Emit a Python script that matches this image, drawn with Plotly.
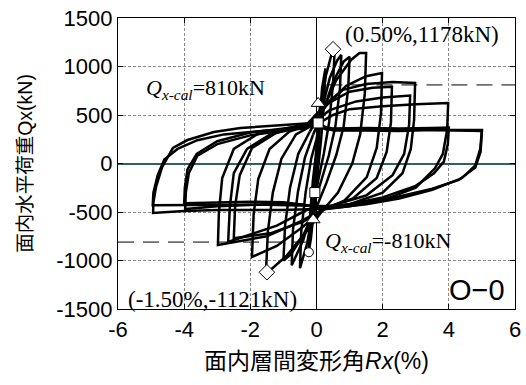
import plotly.graph_objects as go

# ---- hysteresis cycles: drift angle R (%) and in-plane load Q (kN) ----
R_c1 = [0, 0.03, 0.08, 0.12, 0.10, 0.05, 0.0, -0.05, -0.10, -0.12, -0.09, -0.04, 0.0]
Q_c1 = [0, 300, 520, 620, 380, 100, -150, -400, -560, -600, -350, -80, 80]

R_c2 = [0.0, 0.08, 0.17, 0.27, 0.23, 0.14, 0.04, -0.07, -0.17, -0.24, -0.20, -0.11, 0.0]
Q_c2 = [80, 450, 780, 980, 650, 250, -100, -480, -780, -915, -560, -180, 150]

R_c3 = [0.0, 0.10, 0.28, 0.45, 0.55, 0.50, 0.38, 0.22, 0.06, -0.10, -0.28, -0.50, -0.46, -0.33, -0.16, 0.0]
Q_c3 = [150, 480, 900, 1120, 1178, 820, 420, 100, -160, -460, -820, -1080, -700, -300, 50, 250]

R_c4 = [0.0, 0.15, 0.40, 0.62, 0.75, 0.71, 0.57, 0.37, 0.15, -0.10, -0.40, -0.75, -0.71, -0.56, -0.35, -0.10]
Q_c4 = [250, 540, 880, 1060, 1120, 780, 380, 80, -170, -460, -790, -1050, -680, -290, 60, 300]

R_c5 = [-0.10, 0.20, 0.50, 0.82, 1.0, 0.96, 0.82, 0.60, 0.30, 0.0, -0.40, -0.78, -1.0, -0.95, -0.80, -0.55, -0.20]
Q_c5 = [300, 540, 840, 1050, 1100, 780, 380, 90, -200, -450, -740, -940, -1000, -640, -250, 100, 330]

R_c6 = [-0.20, 0.20, 0.60, 1.05, 1.30, 1.50, 1.46, 1.32, 1.08, 0.65, 0.15, -0.30, -0.90, -1.53, -1.47, -1.32, -1.06, -0.62, -0.20]
Q_c6 = [330, 560, 860, 1070, 1140, 1140, 720, 300, 0, -300, -500, -700, -950, -1139, -700, -300, 50, 300, 380]

R_c7 = [-0.20, 0.30, 0.90, 1.50, 1.98, 1.95, 1.82, 1.52, 0.85, 0.20, -0.40, -1.20, -1.95, -1.90, -1.76, -1.42, -0.82, -0.20]
Q_c7 = [380, 600, 800, 900, 932, 520, 160, -140, -380, -480, -650, -850, -964, -520, -160, 150, 330, 400]

R_c8 = [-0.20, 0.35, 1.00, 1.70, 2.28, 2.25, 2.12, 1.82, 1.10, 0.30, -0.40, -1.40, -2.50, -2.46, -2.32, -1.95, -1.20, -0.30]
Q_c8 = [400, 620, 740, 780, 790, 420, 120, -150, -360, -460, -600, -720, -770, -440, -120, 160, 320, 400]

R_c9 = [-0.30, 0.30, 0.80, 1.50, 2.30, 2.98, 2.95, 2.85, 2.60, 2.00, 1.00, 0.20, -0.50, -1.50, -2.98, -2.95, -2.85, -2.50, -1.80, -0.80, -0.10]
Q_c9 = [400, 620, 760, 820, 840, 830, 450, 150, -100, -300, -420, -470, -600, -750, -840, -500, -150, 150, 300, 370, 420]

R_c10 = [-0.10, 0.40, 1.20, 2.00, 2.83, 2.80, 2.65, 2.30, 1.50, 0.50, -0.30, -1.20, -2.67, -2.62, -2.50, -2.10, -1.40, -0.50, 0.0]
Q_c10 = [420, 550, 640, 680, 700, 400, 100, -120, -330, -430, -480, -640, -809, -450, -100, 150, 300, 370, 400]

R_c11 = [0.0, 0.50, 1.00, 2.00, 3.00, 3.98, 3.95, 3.82, 3.58, 3.00, 2.00, 1.00, 0.30, -0.50, -1.50, -3.00, -3.97, -3.95, -3.86, -3.60, -3.00, -2.00, -1.00, 0.0]
Q_c11 = [400, 500, 560, 590, 610, 624, 350, 100, -50, -250, -380, -440, -470, -420, -420, -440, -470, -300, -100, 80, 200, 290, 340, 390]

R_c12 = [0.0, 0.50, 1.50, 2.50, 3.50, 4.00, 3.97, 3.85, 3.55, 3.00, 2.00, 1.00, 0.20, -1.00, -2.00, -3.00, -4.00, -3.98, -3.90, -3.62, -3.00, -2.00, -1.00, 0.0]
Q_c12 = [390, 360, 365, 360, 365, 370, 200, 20, -100, -230, -350, -420, -450, -400, -395, -400, -410, -250, -60, 100, 230, 320, 360, 400]

R_c13 = [0.0, 0.30, 1.00, 2.00, 3.00, 4.00, 5.00, 4.95, 4.80, 4.40, 3.50, 2.50, 1.50, 0.50, 0.0, -1.00, -2.00, -3.00, -4.00, -4.94, -4.93, -4.85, -4.67, -4.34, -3.90, -3.10, -2.30, -1.00, 0.0]
Q_c13 = [390, 350, 345, 350, 350, 345, 345, 150, -20, -150, -270, -360, -420, -460, -470, -480, -480, -480, -490, -510, -400, -240, -40, 160, 242, 325, 366, 400, 420]

R_c14 = [0.0, 0.50, 1.50, 2.50, 3.50, 4.50, 5.00, 4.96, 4.80, 4.30, 3.50, 2.50, 1.50, 0.50, -0.50, -1.50, -2.50, -3.50, -4.50, -4.95, -4.93, -4.80, -4.60, -4.20, -3.60, -2.80, -1.50, -0.30]
Q_c14 = [420, 340, 340, 335, 345, 340, 335, 120, -40, -170, -260, -340, -400, -440, -430, -425, -425, -425, -425, -430, -300, -120, 40, 150, 240, 300, 340, 360]

# ---- characteristic points ----
max_R = [0.50, -1.50]
max_Q = [1178, -1121]
yield_R = [0.05, -0.10]
yield_Q = [620, -580]
crack_R = [0.05, -0.05]
crack_Q = [418, -300]
circ_R = [-0.23]
circ_Q = [-915]

# calculated strength lines
qcal_pos_R = [0.3, 6.0]
qcal_pos_Q = [810, 810]
qcal_neg_R = [-6.0, -0.3]
qcal_neg_Q = [-810, -810]

# ---- ticks ----
x_tickvals = [-6, -4, -2, 0, 2, 4, 6]
x_ticktext = ["-6", "-4", "-2", "0", "2", "4", "6"]
y_tickvals = [-1500, -1000, -500, 0, 500, 1000, 1500]
y_ticktext = ["-1500", "-1000", "-500", "0", "500", "1000", "1500"]

cycles = [(R_c1, Q_c1), (R_c2, Q_c2), (R_c3, Q_c3), (R_c4, Q_c4), (R_c5, Q_c5),
          (R_c6, Q_c6), (R_c7, Q_c7), (R_c8, Q_c8), (R_c9, Q_c9), (R_c10, Q_c10),
          (R_c11, Q_c11), (R_c12, Q_c12), (R_c13, Q_c13), (R_c14, Q_c14)]

fig = go.Figure()

fig.add_trace(go.Scatter(x=qcal_pos_R, y=qcal_pos_Q, mode="lines",
                         line=dict(color="black", width=1, dash="16px,9px"),
                         showlegend=False, hoverinfo="skip"))
fig.add_trace(go.Scatter(x=qcal_neg_R, y=qcal_neg_Q, mode="lines",
                         line=dict(color="black", width=1, dash="16px,9px"),
                         showlegend=False, hoverinfo="skip"))

for R, Q in cycles:
    fig.add_trace(go.Scatter(x=R, y=Q, mode="lines",
                             line=dict(color="black", width=2.5),
                             showlegend=False))

mk_line = dict(color="black", width=1)
fig.add_trace(go.Scatter(x=crack_R, y=crack_Q, mode="markers", showlegend=False,
                         marker=dict(symbol="square", size=10, color="white", line=mk_line)))
fig.add_trace(go.Scatter(x=yield_R, y=yield_Q, mode="markers", showlegend=False,
                         marker=dict(symbol="triangle-up", size=12, color="white", line=mk_line)))
fig.add_trace(go.Scatter(x=circ_R, y=circ_Q, mode="markers", showlegend=False,
                         marker=dict(symbol="circle", size=9, color="white", line=mk_line)))
fig.add_trace(go.Scatter(x=max_R, y=max_Q, mode="markers", showlegend=False,
                         marker=dict(symbol="diamond", size=12, color="white", line=mk_line)))

serif = dict(family="Liberation Serif, Times New Roman, serif", size=23, color="black")
serif_s = dict(family="Liberation Serif, Times New Roman, serif", size=22, color="black")
fig.add_annotation(x=3.19, y=1325, text="(0.50%,1178kN)", showarrow=False, font=serif)
fig.add_annotation(x=-3.37, y=770, text="<i>Q</i><sub><i>x-cal</i></sub>=810kN",
                   showarrow=False, font=serif_s)
fig.add_annotation(x=2.16, y=-810, text="<i>Q</i><sub><i>x-cal</i></sub>=-810kN",
                   showarrow=False, font=serif_s)
fig.add_annotation(x=-3.13, y=-1400, text="(-1.50%,-1121kN)", showarrow=False, font=serif)
fig.add_annotation(x=4.85, y=-1300, text="O−0", showarrow=False,
                   font=dict(family="Liberation Sans, Arial, sans-serif", size=29, color="black"))

sans = "Liberation Sans, Arial, Noto Sans CJK JP, sans-serif"
fig.update_layout(
    width=526, height=385,
    margin=dict(l=118, r=11, t=18, b=76),
    paper_bgcolor="white", plot_bgcolor="white",
    font=dict(family=sans, color="black"),
    xaxis=dict(range=[-6, 6], tickvals=x_tickvals, ticktext=x_ticktext, automargin=False,
               ticklabeloverflow="allow",
               tickfont=dict(size=22, family=sans), showgrid=True,
               gridcolor="#8a8a8a", griddash="3px,2px", gridwidth=1,
               zeroline=True, zerolinecolor="black", zerolinewidth=1,
               showline=True, linecolor="black", linewidth=1.3, mirror="allticks",
               ticks="inside", ticklen=5, tickcolor="black",
               title=dict(text="面内層間変形角<i>Rx</i>(%)", font=dict(size=23, family=sans),
                          standoff=12)),
    yaxis=dict(range=[-1500, 1500], tickvals=y_tickvals, ticktext=y_ticktext, automargin=False,
               ticklabeloverflow="allow",
               tickfont=dict(size=22, family=sans), showgrid=True,
               gridcolor="#8a8a8a", griddash="3px,2px", gridwidth=1,
               zeroline=True, zerolinecolor="#2f6068", zerolinewidth=1.5,
               showline=True, linecolor="black", linewidth=1.3, mirror="allticks",
               ticks="inside", ticklen=5, tickcolor="black",
               title=dict(text="面内水平荷重Qx(kN)", font=dict(size=19.5, family=sans),
                          standoff=18)),
)

# remove the default 8px page margin so the figure fills the window exactly
fig.write_html("out.html", config={"displayModeBar": False},
               post_script="document.body.style.margin='0';")
